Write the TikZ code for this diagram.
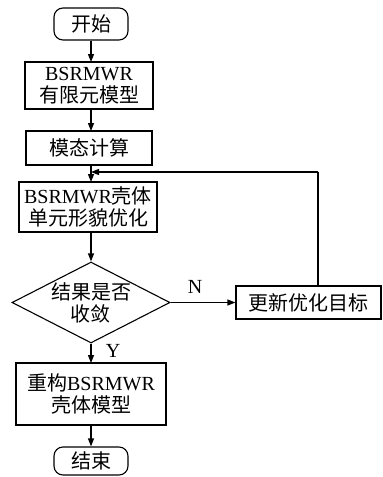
\documentclass[tikz,border=0pt]{standalone}
\usepackage{fontspec}
\setmainfont{Liberation Serif}
\newfontfamily\cjk{Noto Sans CJK SC}
\usetikzlibrary{shapes.geometric,arrows.meta}
\begin{document}
\begin{tikzpicture}[x=1pt,y=-1pt,
  every node/.style={font=\fontsize{20}{23}\selectfont, align=center, inner sep=0pt},
  box/.style={draw, line width=1.1pt, rectangle},
  term/.style={draw, line width=1.1pt, rounded corners=9pt},
  arr/.style={line width=1.1pt, -{Triangle[length=8pt,width=6pt]}},
  ln/.style={line width=1.1pt}]
\useasboundingbox (0,0) rectangle (383,477);
\node[term, minimum width=74pt, minimum height=32pt] (s) at (91,24) {\cjk 开始};
\node[box, minimum width=128pt, minimum height=47pt] (b1) at (89,85.5) {BSRMWR\\[-1pt]{\cjk 有限元模型}};
\node[box, minimum width=126pt, minimum height=34pt] (b3) at (89,148) {\cjk 模态计算};
\node[box, minimum width=138pt, minimum height=50pt] (b4) at (88,207) {BSRMWR{\cjk 壳体}\\[-1pt]{\cjk 单元形貌优化}};
\node[diamond, draw, line width=1.1pt, minimum width=158pt, minimum height=81pt, aspect=1.95] (d) at (91,302.5) {};
\node at (91,302.5) {\cjk 结果是否\\[-1pt]\cjk 收敛};
\node[box, minimum width=145pt, minimum height=33pt] (u) at (308.5,302.5) {\cjk 更新优化目标};
\node[box, minimum width=150pt, minimum height=62pt] (b5) at (91,394) {{\cjk 重构}BSRMWR\\[-1pt]{\cjk 壳体模型}};
\node[term, minimum width=74pt, minimum height=28pt] (e) at (91,461) {\cjk 结束};
\node (nl) at (195,287) {N};
\node (yl) at (113,351) {Y};
\coordinate (j) at (91,172);
\coordinate (c) at (318,172);
\draw[arr] (s.south -| 91,0) -- (91,62);
\draw[arr] (91,109) -- (91,131);
\draw[ln] (91,165) -- (j);
\draw[arr] (j) -- (91,182);
\draw[arr] (d.south) -- (91,363);
\draw[arr] (d.east) -- (u.west);
\draw[arr] (91,425) -- (e.north);
\draw[arr] (91,232) -- (d.north);
\draw[ln] (u.north -| c) -- (c);
\draw[arr] (c) -- (j);
\end{tikzpicture}
\end{document}
